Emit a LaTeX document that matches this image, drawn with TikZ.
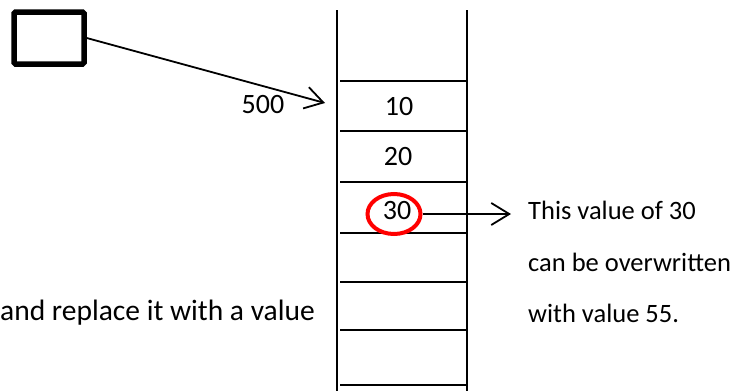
\documentclass[tikz,border=0pt]{standalone}
\usepackage{fontspec}
\setmainfont{Carlito}
\usetikzlibrary{arrows.meta,shapes.geometric}
\tikzset{
  stackline/.style={line width=2pt},
  bigtxt/.style={font=\fontsize{28}{31}\selectfont, inner sep=0pt},
  smalltxt/.style={font=\fontsize{26.5}{29}\selectfont, inner sep=0pt, anchor=west},
  ptr/.style={line width=1.8pt, -{Straight Barb[length=18pt,width=22pt,line width=1.8pt]}},
  varbox/.style={draw, line width=5.5pt, rounded corners=1.5pt, minimum width=70pt, minimum height=52pt, inner sep=0pt},
  hl/.style={draw=red, line width=4pt, ellipse, minimum width=53pt, minimum height=40pt, inner sep=0pt}
}
\begin{document}
\begin{tikzpicture}[x=1pt,y=-1pt]
\useasboundingbox (0,0) rectangle (742,391);
% stack
\draw[stackline] (337,10) -- (337,391);
\draw[stackline] (467,10) -- (467,391);
\foreach \yy in {81,131,182,233,282,330,385}
  \draw[stackline] (340,\yy) -- (467,\yy);
\node[bigtxt] (v10) at (399,107) {10};
\node[bigtxt] (v20) at (398,157) {20};
\node[bigtxt] (v30) at (397,211) {30};
\node[hl] (c30) at (394,214) {};
% pointer box
\node[varbox] (box) at (49,38) {};
\coordinate (tgt) at (325,103);
\draw[ptr] (box.east) -- (tgt);
\node[bigtxt] (p500) at (263,105) {500};
% annotation
\coordinate (ann) at (511,214);
\draw[ptr] (c30.east) -- (ann);
\node[smalltxt] (t1) at (528,210) {This value of 30};
\node[smalltxt] (t2) at (528,262) {can be overwritten};
\node[smalltxt] (t3) at (528,313) {with value 55.};
\node[bigtxt, anchor=west, font=\fontsize{29.5}{32}\selectfont] (t4) at (0,313) {and replace it with a value};
\end{tikzpicture}
\end{document}
